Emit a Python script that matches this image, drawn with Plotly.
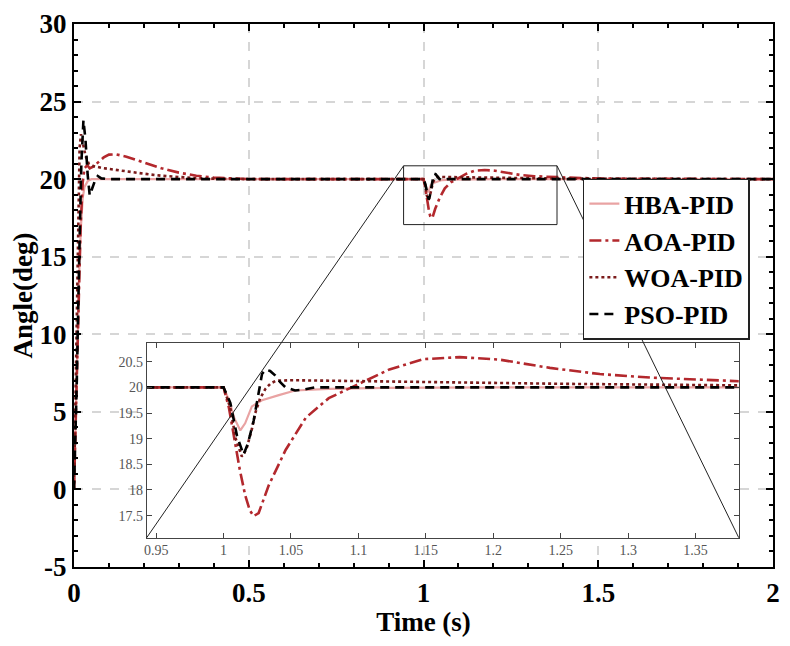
import plotly.graph_objects as go

# step response + disturbance at t = 1 s
t_hba = [0, 0.005, 0.01, 0.015, 0.02, 0.025, 0.03, 0.04, 0.05, 0.2, 1.0, 1.004, 1.008, 1.0124,
         1.016, 1.021, 1.0285, 1.041, 1.053, 1.078, 1.12, 1.2, 2.0]
hba = [0, 5, 10, 14, 17, 18.8, 19.5, 19.9, 20, 20, 20, 19.75, 19.4, 19.16,
       19.3, 19.63, 19.75, 19.85, 19.94, 19.97, 19.99, 20, 20]

t_aoa = [0, 0.007, 0.013, 0.019, 0.025, 0.03, 0.038, 0.045, 0.055, 0.07, 0.085, 0.1, 0.12, 0.15,
         0.2, 0.25, 0.3, 0.35, 0.4, 0.45, 0.5, 0.6, 1.0, 1.004, 1.008, 1.012, 1.016, 1.0195,
         1.0223, 1.026, 1.0335, 1.046, 1.061, 1.078, 1.098, 1.123, 1.148, 1.175, 1.205, 1.242,
         1.279, 1.317, 1.383, 1.45, 1.55, 1.7, 2.0]
aoa = [0, 6, 12, 17, 19.8, 20.7, 20.9, 20.7, 20.8, 21.1, 21.4, 21.58, 21.6, 21.45,
       21.05, 20.7, 20.42, 20.22, 20.1, 20.04, 20.01, 20, 20, 19.6, 19.0, 18.4, 17.9, 17.6,
       17.49, 17.55, 18.09, 18.78, 19.41, 19.79, 20.04, 20.35, 20.55, 20.59, 20.54, 20.38,
       20.26, 20.19, 20.12, 20.07, 20.03, 20.01, 20.0]

t_woa = [0, 0.006, 0.011, 0.016, 0.02, 0.026, 0.033, 0.042, 0.055, 0.08, 0.11, 0.15, 0.2, 0.25,
         0.3, 0.35, 0.42, 0.5, 1.0, 1.005, 1.009, 1.0136, 1.017, 1.0211, 1.0235, 1.027, 1.031,
         1.035, 1.039, 1.05, 1.08, 1.15, 1.25, 1.38, 1.6, 2.0]
woa = [0, 8, 16, 22, 22.9, 22.2, 21.5, 21.0, 20.85, 20.72, 20.62, 20.5, 20.35, 20.22,
       20.12, 20.06, 20.02, 20.0, 20, 19.6, 19.0, 18.65, 18.8, 19.2, 19.5, 19.78, 19.97,
       20.08, 20.13, 20.14, 20.13, 20.1, 20.07, 20.04, 20.02, 20.0]

t_pso = [0, 0.008, 0.015, 0.021, 0.027, 0.033, 0.039, 0.045, 0.052, 0.06, 0.068, 0.078, 0.1,
         1.0, 1.005, 1.01, 1.0148, 1.018, 1.0223, 1.0255, 1.0285, 1.031, 1.0345, 1.0384, 1.042,
         1.046, 1.053, 1.06, 1.068, 1.09, 2.0]
pso = [0, 7, 15, 21, 23.8, 22.5, 20.3, 18.95, 19.4, 19.9, 20.2, 20.05, 20,
       20, 19.7, 19.05, 18.69, 18.9, 19.35, 19.85, 20.26, 20.35, 20.32, 20.23, 20.1,
       20.0, 19.94, 19.96, 20.0, 20, 20]

main_x_ticks = [0, 0.5, 1, 1.5, 2]
main_x_text = ['0', '0.5', '1', '1.5', '2']
main_y_ticks = [-5, 0, 5, 10, 15, 20, 25, 30]
main_y_text = ['-5', '0', '5', '10', '15', '20', '25', '30']
inset_x_ticks = [0.95, 1.0, 1.05, 1.1, 1.15, 1.2, 1.25, 1.3, 1.35]
inset_x_text = ['0.95', '1', '1.05', '1.1', '1.15', '1.2', '1.25', '1.3', '1.35']
inset_y_ticks = [17.5, 18, 18.5, 19, 19.5, 20, 20.5]
inset_y_text = ['17.5', '18', '18.5', '19', '19.5', '20', '20.5']

main_x_range = [0, 2]
main_y_range = [-5, 30]
zoom_x = [0.943, 1.382]
zoom_y = [17.07, 20.86]
inset_dom_x = [0.104, 0.951]
inset_dom_y = [0.054, 0.412]

serif = 'Liberation Serif'

series = [
    ('HBA-PID', t_hba, hba, '#E9A3A3', 'solid', 2.2),
    ('AOA-PID', t_aoa, aoa, '#B3282D', '12px,4px,3px,4px', 2.6),
    ('WOA-PID', t_woa, woa, '#7B1B1B', 'dot', 2.6),
    ('PSO-PID', t_pso, pso, 'black', '9px,6px', 2.6),
]

fig = go.Figure()
for name, t, y, color, dash, width in series:
    fig.add_trace(go.Scatter(x=t, y=y, mode='lines', name=name,
                             line=dict(color=color, dash=dash, width=width)))
for name, t, y, color, dash, width in series:
    fig.add_trace(go.Scatter(x=t, y=y, mode='lines', name=name, showlegend=False,
                             xaxis='x2', yaxis='y2',
                             line=dict(color=color, dash=dash, width=width)))


def to_paper(v, rng, dom=(0, 1)):
    return dom[0] + (v - rng[0]) / (rng[1] - rng[0]) * (dom[1] - dom[0])


# zoom box in main axes and connector lines to the inset
fig.add_shape(type='rect', xref='x', yref='y', x0=zoom_x[0], x1=zoom_x[1],
              y0=zoom_y[0], y1=zoom_y[1], line=dict(color='#222', width=1))
fig.add_shape(type='line', xref='paper', yref='paper',
              x0=to_paper(zoom_x[0], main_x_range), y0=to_paper(zoom_y[1], main_y_range),
              x1=inset_dom_x[0], y1=inset_dom_y[0], line=dict(color='#222', width=1))
fig.add_shape(type='line', xref='paper', yref='paper',
              x0=to_paper(zoom_x[1], main_x_range), y0=to_paper(zoom_y[1], main_y_range),
              x1=inset_dom_x[1], y1=inset_dom_y[0], line=dict(color='#222', width=1))

bold = dict(family=serif, size=27, color='black', weight='bold')
small = dict(family=serif, size=14, color='#555')

# the page adds an 8px body margin, so the figure is 8px smaller each way
fig.update_layout(
    width=782, height=638,
    margin=dict(l=66, r=17, t=16, b=79),
    paper_bgcolor='white', plot_bgcolor='white',
    font=dict(family=serif),
    xaxis=dict(range=main_x_range, tickvals=main_x_ticks, ticktext=main_x_text,
               tickfont=bold, showline=True, linecolor='black', linewidth=2.2,
               mirror='allticks', ticks='inside', ticklen=7, tickwidth=2, tickcolor='black',
               minor=dict(dtick=0.1, ticks='inside', ticklen=4, tickwidth=2, tickcolor='black'),
               showgrid=True, gridcolor='#d6d6d6', griddash='dash', gridwidth=1.5,
               zeroline=False, automargin=False, ticklabeloverflow='allow',
               title=dict(text='Time (s)', font=bold, standoff=6)),
    yaxis=dict(range=main_y_range, tickvals=main_y_ticks, ticktext=main_y_text,
               tickfont=bold, showline=True, linecolor='black', linewidth=2.2,
               mirror='allticks', ticks='inside', ticklen=7, tickwidth=2, tickcolor='black',
               minor=dict(dtick=1, ticks='inside', ticklen=4, tickwidth=2, tickcolor='black'),
               showgrid=True, gridcolor='#d6d6d6', griddash='dash', gridwidth=1.5,
               zeroline=False, automargin=False, ticklabeloverflow='allow',
               title=dict(text='Angle(deg)', font=bold, standoff=4)),
    xaxis2=dict(domain=inset_dom_x, anchor='y2', range=zoom_x,
                tickvals=inset_x_ticks, ticktext=inset_x_text, tickfont=small,
                showline=True, linecolor='#444', linewidth=1, mirror='allticks',
                ticks='inside', ticklen=5, tickcolor='#444', showgrid=False,
                zeroline=False, automargin=False),
    yaxis2=dict(domain=inset_dom_y, anchor='x2', range=zoom_y,
                tickvals=inset_y_ticks, ticktext=inset_y_text, tickfont=small,
                showline=True, linecolor='#444', linewidth=1, mirror='allticks',
                ticks='inside', ticklen=5, tickcolor='#444', showgrid=False,
                zeroline=False, automargin=False),
    legend=dict(x=0.728, y=0.715, xanchor='left', yanchor='top',
                bgcolor='white', bordercolor='#222', borderwidth=1.5,
                font=dict(family=serif, size=26, color='black', weight='bold'),
                tracegroupgap=0),
    showlegend=True,
)

fig.write_html("out.html")
